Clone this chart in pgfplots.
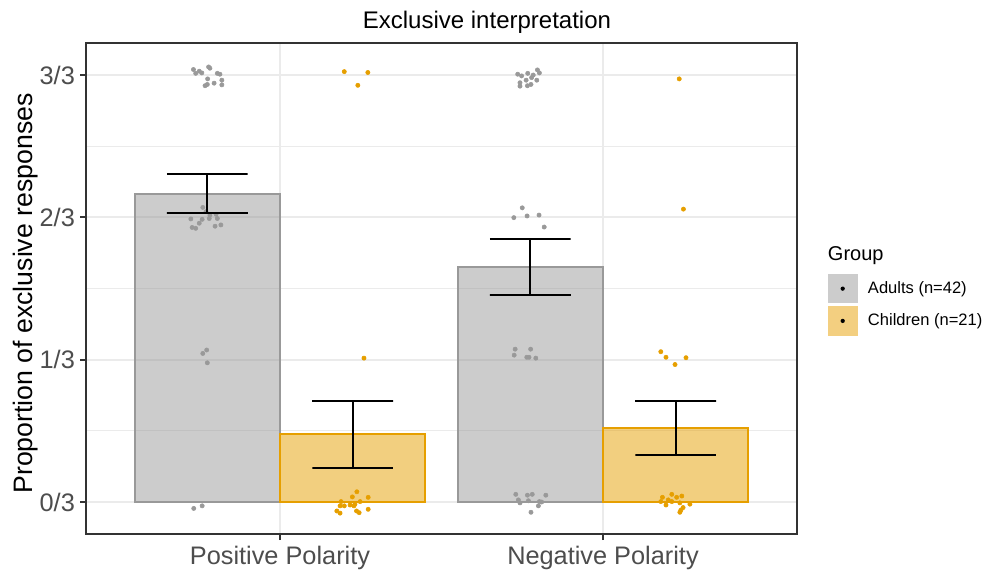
\documentclass[border=0pt]{standalone}
\usepackage{pgfplots}
\pgfplotsset{compat=1.18}
\usepackage{fontspec}
\setmainfont{Liberation Sans}
\definecolor{adultc}{HTML}{999999}
\definecolor{childc}{HTML}{E69F00}
\definecolor{gridc}{HTML}{EBEBEB}
\definecolor{tickc}{HTML}{4D4D4D}
\definecolor{framec}{HTML}{333333}

\pgfplotstableread{
x y
0.732 1.013
0.739 1.004
0.750 1.009
0.758 1.005
0.779 1.019
0.783 1.016
0.806 1.004
0.814 1.002
0.776 0.991
0.820 0.988
0.768 0.975
0.775 0.978
0.796 0.981
0.820 0.977
0.761 0.690
0.771 0.680
0.783 0.672
0.781 0.664
0.802 0.674
0.806 0.664
0.724 0.663
0.759 0.662
0.750 0.653
0.728 0.643
0.739 0.641
0.799 0.646
0.817 0.649
0.761 0.348
0.773 0.356
0.775 0.326
0.733 -0.015
0.759 -0.009
1.736 1.002
1.748 0.998
1.767 1.004
1.797 1.012
1.803 1.005
1.779 0.994
1.762 0.988
1.743 0.982
1.743 0.974
1.766 0.975
1.777 0.978
1.795 0.988
1.784 1.000
1.750 0.689
1.724 0.666
1.765 0.670
1.802 0.672
1.818 0.644
1.728 0.358
1.776 0.358
1.725 0.344
1.764 0.339
1.771 0.339
1.792 0.337
1.730 0.018
1.766 0.016
1.781 0.018
1.823 0.016
1.738 0.005
1.743 -0.002
1.769 0.003
1.803 0.001
1.800 -0.009
1.777 -0.024
1.810 0.000
}\adultpts

\pgfplotstableread{
x y
1.199 1.008
1.272 1.006
1.241 0.976
1.260 0.337
1.238 0.024
1.224 0.012
1.273 0.011
1.189 0.001
1.199 -0.009
1.217 -0.007
1.232 -0.005
1.248 0.001
1.186 -0.009
1.176 -0.021
1.186 -0.026
1.237 -0.021
1.245 -0.025
1.273 -0.017
1.229 -0.009
2.236 0.991
2.249 0.686
2.179 0.352
2.195 0.339
2.223 0.322
2.257 0.338
2.184 0.011
2.213 0.018
2.228 0.011
2.244 0.014
2.179 0.001
2.195 -0.007
2.202 0.005
2.213 0.001
2.238 -0.002
2.269 -0.005
2.248 -0.013
2.241 -0.019
2.238 -0.024
}\childpts

\begin{document}
\begin{tikzpicture}
\useasboundingbox (0,0) rectangle (739.5pt,428.25pt);
\begin{axis}[
  at={(64.65pt,27.4pt)}, anchor=south west,
  scale only axis, width=532.95pt, height=368.9pt,
  xmin=0.4, xmax=2.6, ymin=-0.076, ymax=1.076,
  clip mode=individual,
  axis line style={framec, line width=1.5pt},
  xtick={1,2}, xticklabels={Positive Polarity, Negative Polarity},
  ytick={0,0.333333,0.666667,1}, yticklabels={0/3,1/3,2/3,3/3},
  minor ytick={0.166667,0.5,0.833333},
  minor tick length=0pt,
  major tick length=4.3pt,
  tick align=outside,
  xtick pos=bottom, ytick pos=left,
  tick style={framec, line width=1.5pt},
  grid=both,
  major grid style={gridc, line width=1.5pt},
  minor grid style={gridc, line width=0.75pt},
  ticklabel style={font=\fontsize{19}{22}\selectfont, text=tickc},
  xticklabel style={anchor=north, inner sep=0pt, yshift=-4pt},
  yticklabel style={anchor=east, inner sep=0pt, xshift=-4pt},
  legend style={at={(1.0435,0.5296)}, anchor=north west, draw=none, fill=none,
    inner sep=0pt, outer sep=0pt, row sep=2.2pt, column sep=7.7pt,
    font=\fontsize{12.4}{14}\selectfont,
    nodes={inner sep=0pt, anchor=west}},
  legend cell align=left,
]
% bars
\addplot[ybar, bar width=0.45, bar shift=-0.225, draw=adultc, line width=1.4pt,
  fill=adultc, fill opacity=0.5, forget plot] coordinates {(1,0.7213) (2,0.5504)};
\addplot[ybar, bar width=0.45, bar shift=0.225, draw=childc, line width=1.4pt,
  fill=childc, fill opacity=0.5, forget plot] coordinates {(1,0.1585) (2,0.174)};
% jittered points
\addplot[adultc, only marks, mark=*, mark size=1.6pt, forget plot]
  table[x=x, y=y] {\adultpts};
\addplot[childc, only marks, mark=*, mark size=1.6pt, forget plot]
  table[x=x, y=y] {\childpts};
% error bars
\addplot[black, line width=1.5pt, forget plot] coordinates {(0.65,0.7675) (0.9,0.7675) (0.775,0.7675) (0.775,0.676) (0.65,0.676) (0.9,0.676)};
\addplot[black, line width=1.5pt, forget plot] coordinates {(1.1,0.2365) (1.35,0.2365) (1.225,0.2365) (1.225,0.0804) (1.1,0.0804) (1.35,0.0804)};
\addplot[black, line width=1.5pt, forget plot] coordinates {(1.65,0.616) (1.9,0.616) (1.775,0.616) (1.775,0.485) (1.65,0.485) (1.9,0.485)};
\addplot[black, line width=1.5pt, forget plot] coordinates {(2.1,0.2373) (2.35,0.2373) (2.225,0.2373) (2.225,0.110) (2.1,0.110) (2.35,0.110)};
% legend
\addlegendimage{legend image code/.code={\fill[adultc!50, draw=none] (0pt,-11pt) rectangle (22.5pt,11pt); \fill[black, draw=none] (11.25pt,0pt) circle (1.6pt);}}
\addlegendentry{Adults (n=42)}
\addlegendimage{legend image code/.code={\fill[childc!50, draw=none] (0pt,-11pt) rectangle (22.5pt,11pt); \fill[black, draw=none] (11.25pt,0pt) circle (1.6pt);}}
\addlegendentry{Children (n=21)}
% texts
\node[anchor=base, font=\fontsize{18}{21}\selectfont, inner sep=0pt] at (rel axis cs:0.564,1.029) {Exclusive interpretation};
\node[anchor=north, rotate=90, font=\fontsize{20}{23}\selectfont, inner sep=0pt] at (rel axis cs:-0.103,0.49) {Proportion of exclusive responses};
\node[anchor=base west, font=\fontsize{15}{18}\selectfont, inner sep=0pt] at (rel axis cs:1.0435,0.558) {Group};
\end{axis}
\end{tikzpicture}
\end{document}
